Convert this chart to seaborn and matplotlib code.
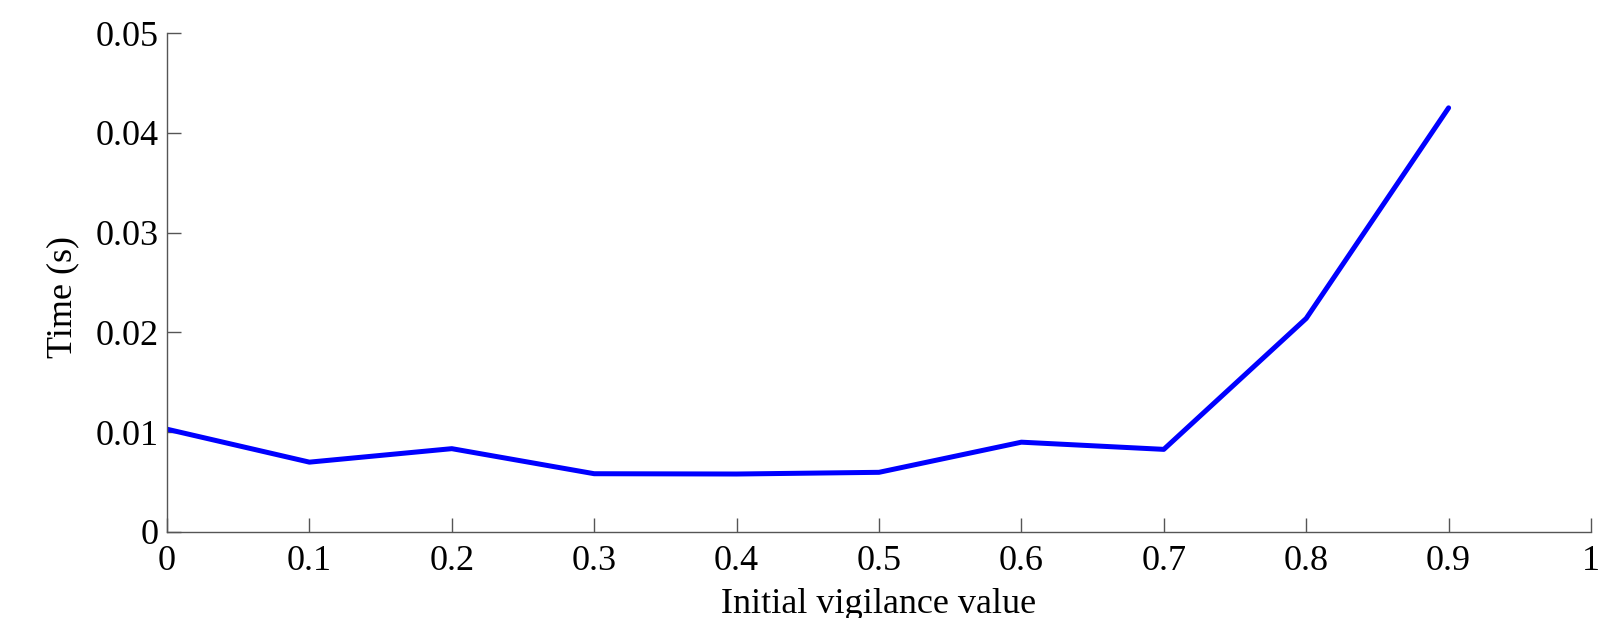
import matplotlib
matplotlib.use("Agg")
import matplotlib.pyplot as plt
import seaborn as sns
import pandas as pd

vigilance = [0.0, 0.1, 0.2, 0.3, 0.4, 0.5, 0.6, 0.7, 0.8, 0.9]
time_s = [0.0103, 0.0070, 0.00835, 0.00584, 0.00581, 0.00598, 0.0090, 0.00828, 0.0214, 0.0425]
xticks = [0, 0.1, 0.2, 0.3, 0.4, 0.5, 0.6, 0.7, 0.8, 0.9, 1]
xtick_labels = ["0", "0.1", "0.2", "0.3", "0.4", "0.5", "0.6", "0.7", "0.8", "0.9", "1"]
yticks = [0, 0.01, 0.02, 0.03, 0.04, 0.05]
ytick_labels = ["0", "0.01", "0.02", "0.03", "0.04", "0.05"]

sns.set_theme(style="white")
plt.rcParams['font.family'] = ['Liberation Serif', 'DejaVu Serif']

df = pd.DataFrame({"x": vigilance, "y": time_s})

fig = plt.figure(figsize=(16.06, 6.18), dpi=100)
ax = fig.add_axes([167/1606, 1 - 532/618, (1591-167)/1606, (532-33)/618])
sns.lineplot(data=df, x="x", y="y", ax=ax, color="#0000ff", linewidth=3.6)

ax.set_xlim(0, 1)
ax.set_ylim(0, 0.05)
ax.set_xticks(xticks)
ax.set_xticklabels(xtick_labels)
ax.set_yticks(yticks)
ax.set_yticklabels(ytick_labels)
for s in ["top", "right"]:
    ax.spines[s].set_visible(False)
for s in ["left", "bottom"]:
    ax.spines[s].set_color("#555555")
    ax.spines[s].set_linewidth(1.0)
ax.tick_params(axis="both", direction="in", length=10, width=1.0, color="#555555",
               labelsize=26, labelcolor="black", left=True, bottom=True)
ax.tick_params(axis="x", pad=9)
ax.tick_params(axis="y", pad=6)
ax.set_xlabel("Initial vigilance value", fontsize=26, color="black")
ax.xaxis.set_label_coords(0.5, -0.112)
ax.set_ylabel("Time (s)", fontsize=26, color="black")
ax.yaxis.set_label_coords(-0.0615, 0.47)
ax.grid(False)

fig.savefig("out.png", dpi=100)
